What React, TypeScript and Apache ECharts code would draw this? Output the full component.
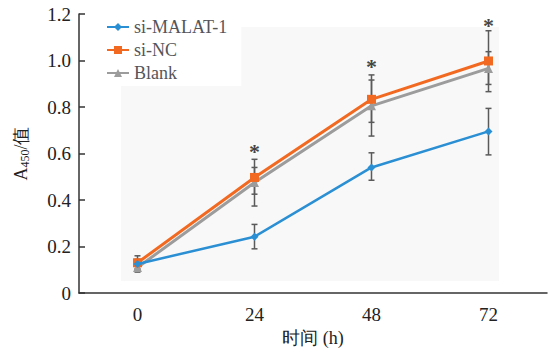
import React, { useEffect, useRef } from "react";
import * as echarts from "echarts";

const categories = ["0", "24", "48", "72"];
const malat = [0.125, 0.242, 0.54, 0.695];
const malatLow = [0.105, 0.19, 0.485, 0.594];
const malatHigh = [0.145, 0.295, 0.603, 0.794];
const nc = [0.13, 0.497, 0.833, 0.998];
const ncLow = [0.1, 0.425, 0.734, 0.866];
const ncHigh = [0.16, 0.575, 0.938, 1.128];
const blank = [0.11, 0.475, 0.805, 0.966];
const blankLow = [0.09, 0.374, 0.675, 0.897];
const blankHigh = [0.13, 0.54, 0.916, 1.038];
const sigPos = [[1, 0.625], [2, 0.99], [3, 1.166]];
const yTicks = { min: 0, max: 1.2, interval: 0.2 };

const serif = "Liberation Serif";

function errSeries(name: string, low: number[], high: number[]) {
  return {
    type: "custom",
    name: name + "-err",
    z: 1,
    data: low.map((l, i) => [i, l, high[i]]),
    renderItem: (params: any, api: any) => {
      const x = api.value(0);
      const lo = api.coord([x, api.value(1)]);
      const hi = api.coord([x, api.value(2)]);
      const w = 3;
      const style = { stroke: "#5a5a5a", lineWidth: 1.5 };
      return {
        type: "group",
        children: [
          { type: "line", shape: { x1: lo[0], y1: lo[1], x2: hi[0], y2: hi[1] }, style },
          { type: "line", shape: { x1: lo[0] - w, y1: lo[1], x2: lo[0] + w, y2: lo[1] }, style },
          { type: "line", shape: { x1: hi[0] - w, y1: hi[1], x2: hi[0] + w, y2: hi[1] }, style },
        ],
      };
    },
  };
}

export default function App() {
  const ref = useRef<HTMLDivElement>(null);
  useEffect(() => {
    const chart = echarts.init(ref.current!, undefined, { renderer: "svg" });
    chart.setOption({
      animation: false,
      textStyle: { fontFamily: serif },
      graphic: [
        {
          type: "rect",
          z: -10,
          silent: true,
          shape: { x: 121, y: 27, width: 378, height: 254 },
          style: { fill: "#f8f8f8" },
        },
      ],
      grid: { left: 79, right: 10, top: 14, bottom: 59 },
      legend: {
        orient: "vertical",
        left: 100,
        top: 16,
        itemWidth: 22,
        itemHeight: 10,
        itemGap: 5,
        padding: [2, 14, 4, 6],
        backgroundColor: "#ffffff",
        textStyle: { fontFamily: serif, fontSize: 18 },
        data: ["si-MALAT-1", "si-NC", "Blank"],
      },
      xAxis: {
        type: "category",
        data: categories,
        boundaryGap: true,
        name: "时间 (h)",
        nameLocation: "middle",
        nameGap: 36,
        nameTextStyle: { fontFamily: serif, fontSize: 18, color: "#222" },
        axisLine: { lineStyle: { color: "#333", width: 1.5 } },
        axisTick: { inside: true, length: 6, lineStyle: { color: "#333", width: 1.5 } },
        axisLabel: { fontFamily: serif, fontSize: 19, color: "#222", margin: 12 },
      },
      yAxis: {
        type: "value",
        min: yTicks.min,
        max: yTicks.max,
        interval: yTicks.interval,
        name: "{a|A}{s|450}{a|/值}",
        nameLocation: "middle",
        nameGap: 48,
        nameRotate: 90,
        nameTextStyle: {
          rich: {
            a: { fontFamily: serif, fontSize: 18, color: "#222" },
            s: { fontFamily: serif, fontSize: 12, color: "#222", verticalAlign: "bottom", padding: [8, 0, 0, 0] },
          },
        },
        splitLine: { show: false },
        axisLine: { show: true, lineStyle: { color: "#333", width: 1.5 } },
        axisTick: { show: true, inside: true, length: 6, lineStyle: { color: "#333", width: 1.5 } },
        axisLabel: {
          fontFamily: serif,
          fontSize: 19,
          color: "#222",
          margin: 8,
          formatter: (v: number) => (v === 0 ? "0" : v.toFixed(1)),
        },
      },
      series: [
        errSeries("Blank", blankLow, blankHigh),
        errSeries("si-NC", ncLow, ncHigh),
        errSeries("si-MALAT-1", malatLow, malatHigh),
        {
          name: "Blank",
          type: "line",
          data: blank,
          z: 3,
          symbol: "triangle",
          symbolSize: 9,
          color: "#9c9c9c",
          lineStyle: { width: 3, color: "#9c9c9c" },
          itemStyle: { color: "#9c9c9c" },
        },
        {
          name: "si-NC",
          type: "line",
          data: nc,
          z: 4,
          symbol: "rect",
          symbolSize: 9,
          color: "#f26a21",
          lineStyle: { width: 3, color: "#f26a21" },
          itemStyle: { color: "#f26a21" },
        },
        {
          name: "si-MALAT-1",
          type: "line",
          data: malat,
          z: 5,
          symbol: "diamond",
          symbolSize: 8,
          color: "#2b8fd4",
          lineStyle: { width: 2.5, color: "#2b8fd4" },
          itemStyle: { color: "#2b8fd4" },
        },
        {
          name: "sig",
          type: "scatter",
          data: sigPos,
          symbolSize: 1,
          itemStyle: { color: "rgba(0,0,0,0)" },
          label: {
            show: true,
            position: "inside",
            formatter: "*",
            fontFamily: serif,
            fontWeight: "bold",
            fontSize: 22,
            offset: [0, 4],
            color: "#111",
          },
        },
      ],
    });
    return () => chart.dispose();
  }, []);
  return <div ref={ref} style={{ position: "absolute", left: 0, top: 0, width: 557, height: 352 }} />;
}
